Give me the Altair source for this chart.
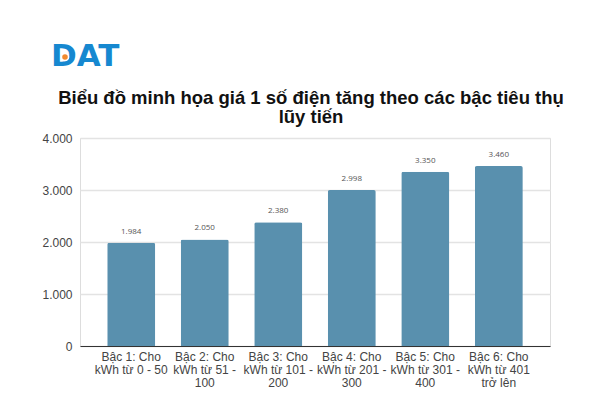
import altair as alt
import pandas as pd

categories = [
    "Bậc 1: Cho\nkWh từ 0 - 50",
    "Bậc 2: Cho\nkWh từ 51 -\n100",
    "Bậc 3: Cho\nkWh từ 101 -\n200",
    "Bậc 4: Cho\nkWh từ 201 -\n300",
    "Bậc 5: Cho\nkWh từ 301 -\n400",
    "Bậc 6: Cho\nkWh từ 401\ntrở lên",
]
prices = [1984, 2050, 2380, 2998, 3350, 3460]
y_ticks = [0, 1000, 2000, 3000, 4000]
title_lines = ["Biểu đồ minh họa giá 1 số điện tăng theo các bậc tiêu thụ", "lũy tiến"]
logo_text = "DAT"

df = pd.DataFrame({"cat": categories, "price": prices})

W, H = 470, 208
BAR = "#5990ae"

x = alt.X(
    "cat:N", sort=categories, title=None,
    scale=alt.Scale(paddingInner=0.347, paddingOuter=0.37),
    axis=alt.Axis(
        labelExpr="split(datum.label, '\\n')", labelAngle=0,
        labelFont="Liberation Sans", labelFontSize=12, labelColor="#444444",
        labelLineHeight=13, labelPadding=5, ticks=False,
        domainColor="#333333", domainWidth=1, labelBaseline="top",
    ),
)
y = alt.Y(
    "price:Q", title=None,
    scale=alt.Scale(domain=[0, 4000], nice=False),
    axis=alt.Axis(
        values=y_ticks,
        labelExpr="replace(format(datum.value, ','), ',', '.')",
        labelFont="Liberation Sans", labelFontSize=12, labelColor="#444444",
        labelPadding=8, ticks=False, domain=False,
        gridColor="#e3e3e3", gridWidth=1.5,
    ),
)

bars = alt.Chart(df).mark_bar(color=BAR, cornerRadiusTopLeft=2, cornerRadiusTopRight=2).encode(x=x, y=y)

labels = alt.Chart(df).transform_calculate(
    lbl="replace(format(datum.price, ','), ',', '.')"
).mark_text(
    dy=-11, baseline="middle", font="Open Sans", fontSize=8, color="#555555"
).encode(x=alt.X("cat:N", sort=categories), y="price:Q", text="lbl:N")

title1 = alt.Chart(pd.DataFrame({"t": [title_lines[0]]})).mark_text(
    font="Liberation Sans", fontWeight="bold", fontSize=18.5, color="#111111",
    align="center", baseline="middle",
).encode(x=alt.value(231), y=alt.value(-40), text="t:N")

title2 = alt.Chart(pd.DataFrame({"t": [title_lines[1]]})).mark_text(
    font="Liberation Sans", fontWeight="bold", fontSize=18.5, color="#111111",
    align="center", baseline="middle",
).encode(x=alt.value(231), y=alt.value(-21), text="t:N")

logo = alt.Chart(pd.DataFrame({"t": [logo_text]})).mark_text(
    font="DejaVu Sans", fontWeight="bold", fontSize=31, color="#1688d0",
    align="left", baseline="middle",
).encode(x=alt.value(-29), y=alt.value(-81), text="t:N")

logo_dot = alt.Chart(pd.DataFrame({"t": [1]})).mark_point(
    filled=True, color="#f28a2e", size=50, stroke="white", strokeWidth=1.5, opacity=1
).encode(x=alt.value(-15), y=alt.value(-81))

chart = alt.layer(bars, labels, title1, title2, logo, logo_dot).properties(
    width=W, height=H,
    autosize=alt.AutoSizeParams(type="none"),
    padding={"left": 72, "top": 130, "right": 40, "bottom": 46},
).configure_view(stroke=None).configure(background="white")

chart.save("out.html", embed_options={"renderer": "svg", "actions": False})
